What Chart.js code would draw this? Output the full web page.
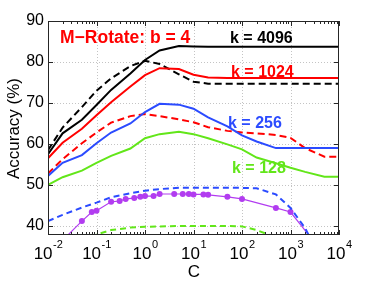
<!DOCTYPE html>
<html><head><meta charset="utf-8">
<script src="https://cdn.jsdelivr.net/npm/chart.js@4/dist/chart.umd.min.js"></script>
<style>html,body{margin:0;padding:0;background:#fff;overflow:hidden}</style>
</head><body>
<canvas id="c" width="374" height="281" style="width:374px;height:281px;display:block"></canvas>
<script>
// ---- data ----
const C_GRID = [0.01,0.02,0.05,0.1,0.2,0.5,1,2,5,10,20,50,100,200,500,1000,2000,5000,10000];
const k4096_solid  = [57.5,62.6,65.9,69.5,73.2,77.2,80.5,82.8,83.9,83.8,83.7,83.7,83.7,83.7,83.7,83.7,83.7,83.7,83.7];
const k4096_dashed = [58.5,64.0,69.0,73.0,76.0,79.0,80.3,79.5,77.0,75.2,74.7,74.7,74.7,74.7,74.7,74.7,74.7,74.7,74.7];
const k1024_solid  = [56.5,60.3,63.7,67.0,70.2,74.0,76.8,78.5,78.3,76.9,76.2,76.1,76.1,76.1,76.1,76.1,76.1,76.1,76.1];
const k1024_dashed = [52.8,56.3,60.2,62.8,65.2,66.8,67.3,66.8,66.0,65.3,64.1,63.2,62.8,62.6,62.2,61.5,59.0,56.9,56.9];
const k256_solid   = [52.2,55.4,57.3,60.2,62.8,65.0,67.8,69.8,69.6,68.6,66.5,64.3,62.1,60.6,59.0,59.0,59.0,59.0,59.0];
const k256_dashed  = [41.2,42.7,44.5,45.7,47.0,48.0,48.6,49.0,49.3,49.3,49.3,49.3,49.3,49.2,47.7,44.4,39.5,30.0,null];
const k128_solid   = [50.0,51.9,53.5,55.4,57.1,58.9,61.4,62.4,63.0,62.4,61.4,59.9,58.7,56.7,55.3,54.2,53.2,52.0,52.0];
const C_K128_DASHED = [0.05,0.1,0.2,0.5,1,2,5,10,20,50,100,200,500,1000];
const k128_dashed  = [36.5,37.9,39.0,39.6,39.8,39.9,40.0,40.0,40.0,40.0,39.9,39.0,37.2,35.0];
const C_MARKED = [0.02,0.05,0.08,0.1,0.2,0.3,0.4,0.6,0.8,1,1.5,2,4,6,8,10,16,20,50,100,500,1000,5000];
const marked   = [36.5,41.2,43.4,43.7,45.9,46.1,46.6,46.8,47.1,47.3,47.3,47.8,47.8,47.8,47.8,47.7,47.7,47.6,47.1,46.6,44.4,43.4,33.0];
const X_TICK_EXP = [-2,-1,0,1,2,3,4];
const Y_TICKS = [40,50,60,70,80,90];
const ANNOTATIONS = [
  {text:'M\u2212Rotate: b = 4', x:60,  y:43,  color:'#ff0000', size:17.5},
  {text:'k = 4096',             x:230, y:43,  color:'#000000', size:16},
  {text:'k = 1024',             x:231, y:77,  color:'#ff0000', size:16},
  {text:'k = 256',              x:228, y:128, color:'#2b4bff', size:16},
  {text:'k = 128',              x:232, y:173, color:'#62e619', size:16}
];
// ---------------------------------------

const FONT = "'Liberation Sans', Arial, Helvetica, sans-serif";
const RED='#ff0000', BLUE='#2b4bff', GREEN='#62e619', PURPLE='#b23cf0';
function pts(xs, ys){ return xs.map((x,i)=>({x:x, y:ys[i]})).filter(p=>p.y!==null); }
function ds(xs, ys, color, dash, extra){
  return Object.assign({data:pts(xs,ys), borderColor:color, backgroundColor:color, borderWidth:2,
    borderDash:dash||[], pointRadius:0, tension:0, clip:0, fill:false}, extra||{});
}

const deco = {
  id:'deco',
  beforeDatasetsDraw(chart){
    const {ctx, chartArea:a, scales:{x,y}} = chart;
    ctx.save();
    ctx.strokeStyle='#c4c4c4'; ctx.lineWidth=1; ctx.setLineDash([1,2]);
    X_TICK_EXP.forEach(e=>{
      const px=Math.round(x.getPixelForValue(Math.pow(10,e)))+0.5;
      if(px<=a.left+1||px>=a.right-1) return;
      ctx.beginPath(); ctx.moveTo(px,a.top); ctx.lineTo(px,a.bottom); ctx.stroke();
    });
    Y_TICKS.forEach(v=>{
      const py=Math.round(y.getPixelForValue(v))+0.5;
      if(py<=a.top+1||py>=a.bottom-1) return;
      ctx.beginPath(); ctx.moveTo(a.left,py); ctx.lineTo(a.right,py); ctx.stroke();
    });
    ctx.restore();
  },
  afterDatasetsDraw(chart){
    const {ctx, chartArea:a, scales:{x,y}} = chart;
    ctx.save();
    ctx.setLineDash([]);
    ctx.strokeStyle='#262626'; ctx.lineWidth=1;
    ctx.strokeRect(a.left+0.5, a.top+0.5, a.right-a.left-1, a.bottom-a.top-1);
    ctx.beginPath();
    for(let e=-2;e<=4;e++){
      for(let m=1;m<=9;m++){
        const v=m*Math.pow(10,e); if(v>10000) break;
        const px=Math.round(x.getPixelForValue(v))+0.5;
        const len = m===1?5:3;
        ctx.moveTo(px,a.bottom); ctx.lineTo(px,a.bottom-len);
        ctx.moveTo(px,a.top); ctx.lineTo(px,a.top+len);
      }
    }
    Y_TICKS.forEach(v=>{
      const py=Math.round(y.getPixelForValue(v))+0.5;
      ctx.moveTo(a.left,py); ctx.lineTo(a.left+5,py);
      ctx.moveTo(a.right,py); ctx.lineTo(a.right-5,py);
    });
    ctx.stroke();
    ctx.fillStyle='#000'; ctx.textBaseline='alphabetic'; ctx.textAlign='left';
    X_TICK_EXP.forEach(e=>{
      const px=x.getPixelForValue(Math.pow(10,e));
      ctx.font='17px '+FONT; const wb=ctx.measureText('10').width;
      const sup=(e<0?'-':'')+Math.abs(e);
      ctx.font='11px '+FONT; const ws=ctx.measureText(sup).width;
      const x0=px-(wb+ws)/2;
      ctx.font='17px '+FONT; ctx.fillText('10',x0,259);
      ctx.font='11px '+FONT; ctx.fillText(sup,x0+wb+0.5,248);
    });
    ctx.font='17px '+FONT; ctx.textAlign='center';
    ctx.fillText('C', 194, 277);
    ctx.save(); ctx.translate(18.5,128.5); ctx.rotate(-Math.PI/2);
    ctx.font='17px '+FONT; ctx.fillText('Accuracy (%)',0,0); ctx.restore();
    ctx.textAlign='left';
    ANNOTATIONS.forEach(t=>{ ctx.font='bold '+t.size+'px '+FONT; ctx.fillStyle=t.color; ctx.fillText(t.text,t.x,t.y); });
    ctx.restore();
  }
};

new Chart(document.getElementById('c'), {
  type:'line',
  data:{ datasets:[
    ds(C_K128_DASHED, k128_dashed, GREEN, [6,4]),
    ds(C_GRID, k128_solid, GREEN),
    ds(C_GRID, k256_dashed, BLUE, [6,4]),
    ds(C_GRID, k256_solid, BLUE),
    ds(C_GRID, k1024_dashed, RED, [7,4]),
    ds(C_GRID, k1024_solid, RED),
    ds(C_GRID, k4096_dashed, '#000000', [7,4]),
    ds(C_GRID, k4096_solid, '#000000'),
    ds(C_MARKED, marked, PURPLE, [], {borderWidth:1.2, pointRadius:3, pointBorderWidth:0, pointBackgroundColor:PURPLE})
  ]},
  options:{
    responsive:false, animation:false, devicePixelRatio:1,
    layout:{padding:{top:21,right:35,left:0,bottom:0}},
    plugins:{legend:{display:false}, tooltip:{enabled:false}},
    scales:{
      x:{type:'logarithmic', min:0.01, max:10000,
         afterBuildTicks:s=>{ s.ticks=X_TICK_EXP.map(e=>({value:Math.pow(10,e)})); },
         afterFit:s=>{ s.height=46; },
         ticks:{display:false}, grid:{display:false, drawTicks:false}, border:{display:false}},
      y:{type:'linear', min:37.8, max:90,
         afterBuildTicks:s=>{ s.ticks=Y_TICKS.map(v=>({value:v})); },
         afterFit:s=>{ s.width=48; },
         ticks:{font:{size:16,family:FONT}, color:'#000', padding:4},
         grid:{display:false, drawTicks:false}, border:{display:false}}
    }
  },
  plugins:[deco]
});
</script>
</body></html>
